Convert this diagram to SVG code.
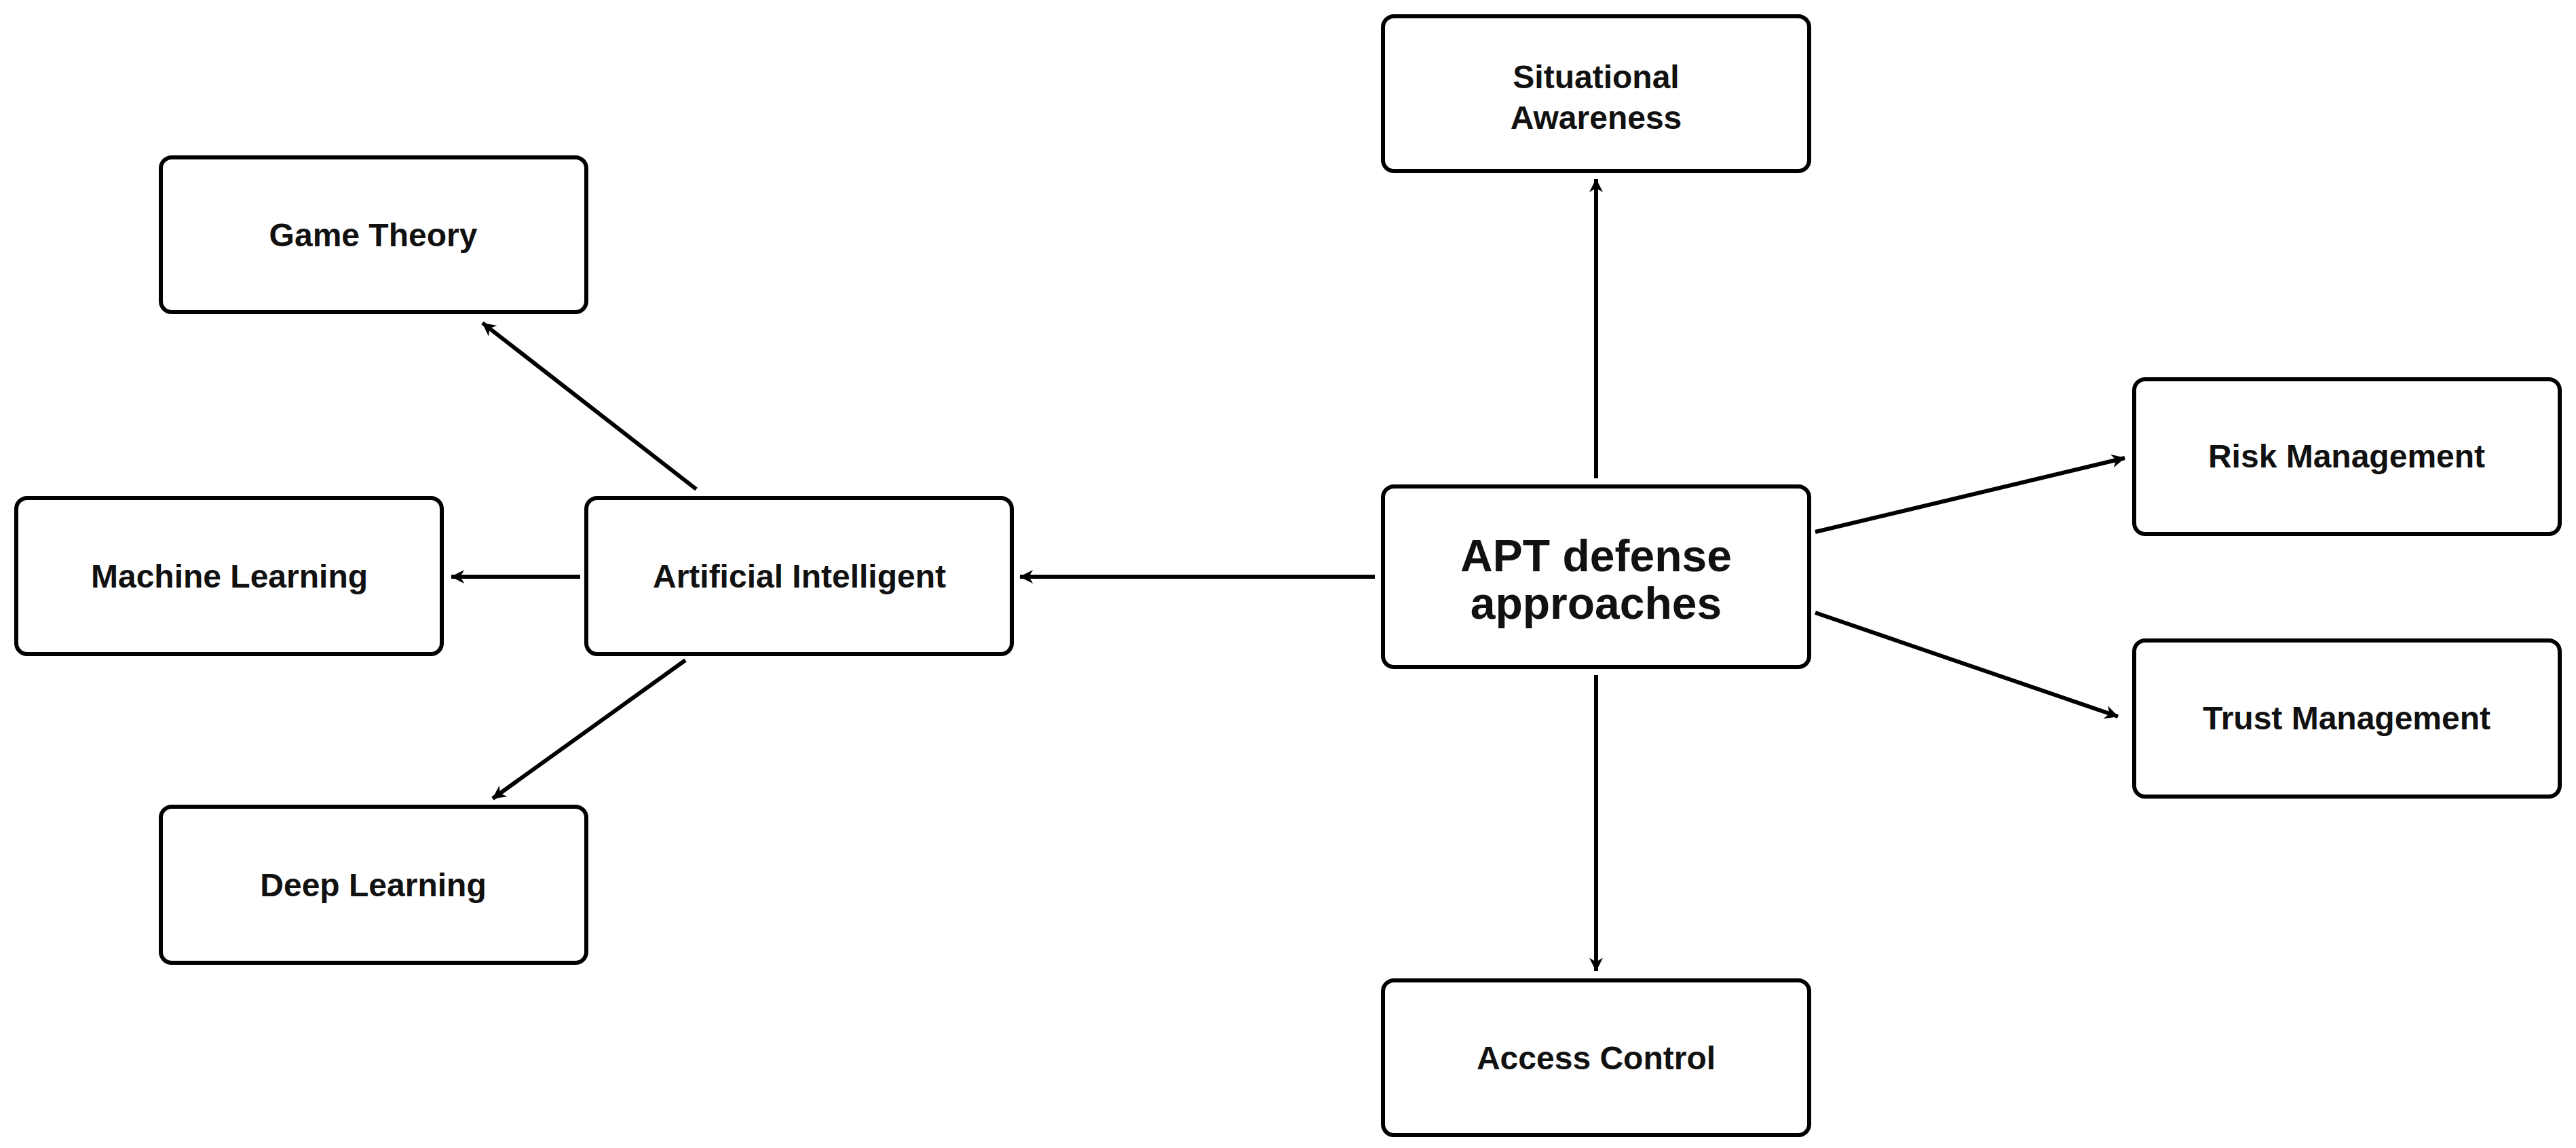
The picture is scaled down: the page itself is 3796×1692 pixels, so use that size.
<svg xmlns="http://www.w3.org/2000/svg" width="3796" height="1692" viewBox="0 0 3796 1692">
<style>
.n rect{fill:#fff;stroke:#000;stroke-width:6}
.n text{font-family:"Liberation Sans",Arial,sans-serif;font-weight:bold;font-size:48px;text-anchor:middle;fill:#111}
.big{font-size:66px !important}
.c line{stroke:#000;stroke-width:6;marker-end:url(#a)}
</style>
<defs><marker id="a" viewBox="0 0 20 20" refX="18" refY="10" markerWidth="8" markerHeight="8" markerUnits="userSpaceOnUse" orient="auto" style="overflow:visible"><path d="M0,0 L20,10 L0,20 L6,10 Z" fill="#000" transform="scale(2.5) translate(-12,-6)"/></marker></defs>
<rect width="3796" height="1692" fill="#fff"/>
<g class="c">
<line x1="2026" y1="850" x2="1503" y2="850"/>
<line x1="2352" y1="705" x2="2352" y2="264"/>
<line x1="2352" y1="995" x2="2352" y2="1431"/>
<line x1="2675" y1="784" x2="3131" y2="675"/>
<line x1="2675" y1="903" x2="3121" y2="1056"/>
<line x1="1026" y1="721" x2="711" y2="476"/>
<line x1="855" y1="850" x2="665" y2="850"/>
<line x1="1010" y1="973" x2="726" y2="1177"/>
</g>
<g id="apt" class="n"><rect x="2038" y="717" width="628" height="266" rx="16"/><text class="big" x="2352" y="842">APT defense</text><text class="big" x="2352" y="912">approaches</text></g>
<g id="sit" class="n"><rect x="2038" y="24" width="628" height="228" rx="16"/><text x="2352" y="130">Situational</text><text x="2352" y="190">Awareness</text></g>
<g id="risk" class="n"><rect x="3145" y="559" width="627" height="228" rx="16"/><text x="3458" y="689">Risk Management</text></g>
<g id="trust" class="n"><rect x="3145" y="944" width="627" height="230" rx="16"/><text x="3458" y="1075">Trust Management</text></g>
<g id="access" class="n"><rect x="2038" y="1445" width="628" height="228" rx="16"/><text x="2352" y="1576">Access Control</text></g>
<g id="game" class="n"><rect x="237" y="232" width="627" height="228" rx="16"/><text x="550" y="363">Game Theory</text></g>
<g id="ml" class="n"><rect x="24" y="734" width="627" height="230" rx="16"/><text x="338" y="866">Machine Learning</text></g>
<g id="ai" class="n"><rect x="864" y="734" width="627" height="230" rx="16"/><text x="1178" y="866">Artificial Intelligent</text></g>
<g id="deep" class="n"><rect x="237" y="1189" width="627" height="230" rx="16"/><text x="550" y="1321">Deep Learning</text></g>
</svg>
